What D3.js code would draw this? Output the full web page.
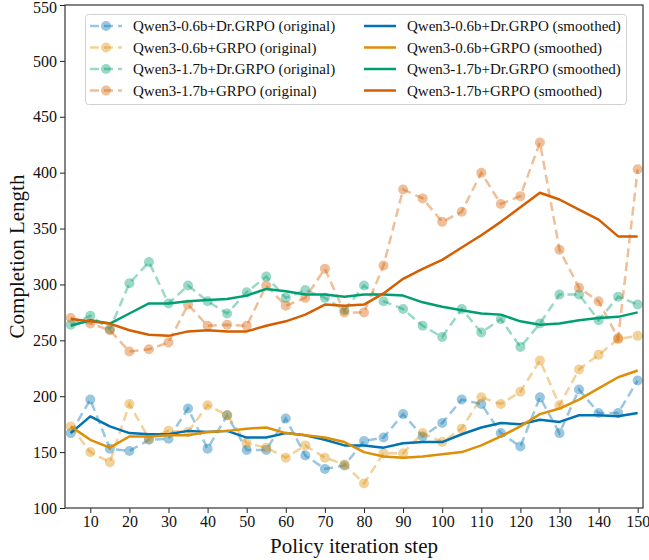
<!DOCTYPE html>
<html><head><meta charset="utf-8">
<script src="https://cdn.jsdelivr.net/npm/d3@7"></script>
<style>body{margin:0;background:#fff}svg{display:block}</style>
</head><body><svg id="c" width="649" height="560"></svg>
<script>
const steps = [5,10,15,20,25,30,35,40,45,50,55,60,65,70,75,80,85,90,95,100,105,110,115,120,125,130,135,140,145,150];
const xTicks = [10,20,30,40,50,60,70,80,90,100,110,120,130,140,150];
const yTicks = [100,150,200,250,300,350,400,450,500,550];

const q06DrOrig = [167,197,153,151,161,162,189,153,183,152,152,180,147,135,138,160,163,184,164,176,197,193,167,155,199,167,206,185,185,214];
const q06GrpoOrig = [173,150,141,193,162,169,168,192,183,158,154,145,156,145,139,122,149,149,167,159,171,199,193,204,232,192,224,237,251,254];
const q17DrOrig = [264,272,260,301,320,283,299,285,274,293,307,288,295,288,277,299,285,278,263,253,278,257,269,244,265,291,291,268,289,282];
const q17GrpoOrig = [270,265,259,240,242,248,282,263,264,263,299,281,288,314,275,275,317,385,377,356,365,400,372,379,427,331,297,285,252,403];

const q06DrSmooth = [167,182,173,167,166,166,169,168,169,163,163,167,165,161,156,156,154,158,159,159,166,172,176,175,179,177,183,183,182,185];
const q06GrpoSmooth = [173,161,154,164,164,165,165,168,169,171,172,167,165,163,159,150,146,145,146,148,150,156,164,173,184,189,197,207,217,223];
const q17DrSmooth = [263,268,265,274,283,283,285,286,287,290,296,294,291,291,289,291,291,290,284,280,277,274,273,267,264,265,268,270,271,275];
const q17GrpoSmooth = [269,267,265,259,255,254,258,259,258,258,263,267,273,282,281,282,292,305,314,322,333,344,356,369,382,376,367,358,343,343];

const names = ["Qwen3-0.6b+Dr.GRPO","Qwen3-0.6b+GRPO","Qwen3-1.7b+Dr.GRPO","Qwen3-1.7b+GRPO"];
const colors = ["#0173B2","#DE8F05","#029E73","#D55E00"];
const origSeries = [q06DrOrig,q06GrpoOrig,q17DrOrig,q17GrpoOrig];
const smoothSeries = [q06DrSmooth,q06GrpoSmooth,q17DrSmooth,q17GrpoSmooth];

const svg = d3.select("#c");
const L=65,R=643,T=5,B=508;
const x = d3.scaleLinear().domain([3.53,151.36]).range([L,R]);
const y = d3.scaleLinear().domain([100,550]).range([B,T]);
const font = "Liberation Serif, Tinos, Times New Roman, DejaVu Serif, serif";

const line = d3.line().x((d,i)=>x(steps[i])).y(d=>y(d));
const ALPHA = 0.4, DASH = "9,5";

origSeries.forEach((s,k)=>{
  svg.append("path").attr("d",line(s)).attr("fill","none").attr("stroke",colors[k])
    .attr("stroke-width",2.5).attr("stroke-opacity",ALPHA).attr("stroke-dasharray",DASH);
  svg.append("g").selectAll("circle").data(s).join("circle")
    .attr("cx",(d,i)=>x(steps[i])).attr("cy",d=>y(d)).attr("r",5)
    .attr("fill",colors[k]).attr("fill-opacity",ALPHA);
});
smoothSeries.forEach((s,k)=>{
  svg.append("path").attr("d",line(s)).attr("fill","none").attr("stroke",colors[k])
    .attr("stroke-width",2.5).attr("stroke-linejoin","round");
});

// axes
const xAxis = svg.append("g").attr("transform",`translate(0,${B})`)
  .call(d3.axisBottom(x).tickValues(xTicks).tickSize(5).tickPadding(3).tickSizeOuter(0));
const yAxis = svg.append("g").attr("transform",`translate(${L},0)`)
  .call(d3.axisLeft(y).tickValues(yTicks).tickSize(5).tickPadding(3).tickSizeOuter(0));
[xAxis,yAxis].forEach(a=>{
  a.attr("font-family",null).attr("font-size",null);
  a.select(".domain").remove();
  a.selectAll("line").attr("stroke","#222").attr("stroke-width",1);
  a.selectAll("text").style("font-family",font).style("font-size","16px").attr("fill","#111");
});
yAxis.selectAll("text").filter(d=>d===550).attr("dy","0.45em");
svg.append("rect").attr("x",L).attr("y",T).attr("width",R-L).attr("height",B-T)
  .attr("fill","none").attr("stroke","#333").attr("stroke-width",1.2);

svg.append("text").attr("x",(L+R)/2).attr("y",553).attr("text-anchor","middle")
  .style("font-family",font).style("font-size","21px").attr("fill","#111").text("Policy iteration step");
svg.append("text").attr("transform",`translate(24,${(T+B)/2}) rotate(-90)`).attr("text-anchor","middle")
  .style("font-family",font).style("font-size","21px").attr("fill","#111").text("Completion Length");

// legend
const lg = svg.append("g");
lg.append("rect").attr("x",85.5).attr("y",14.5).attr("width",541).attr("height",90).attr("rx",3)
  .attr("fill","#fff").attr("fill-opacity",0.85).attr("stroke","#d0d0d0").attr("stroke-width",1);
const rowY = [26,47.5,69,90.5];
names.forEach((n,k)=>{
  const yy = rowY[k];
  lg.append("line").attr("x1",90).attr("x2",122).attr("y1",yy).attr("y2",yy).attr("stroke",colors[k])
    .attr("stroke-width",2.5).attr("stroke-opacity",ALPHA).attr("stroke-dasharray",DASH);
  lg.append("circle").attr("cx",106).attr("cy",yy).attr("r",5).attr("fill",colors[k]).attr("fill-opacity",ALPHA);
  lg.append("text").attr("x",133).attr("y",yy+5).style("font-family",font).style("font-size","15px").attr("fill","#111")
    .text(n+" (original)");
  lg.append("line").attr("x1",364).attr("x2",396).attr("y1",yy).attr("y2",yy).attr("stroke",colors[k]).attr("stroke-width",2.5);
  lg.append("text").attr("x",407).attr("y",yy+5).style("font-family",font).style("font-size","15px").attr("fill","#111")
    .text(n+" (smoothed)");
});
</script></body></html>
